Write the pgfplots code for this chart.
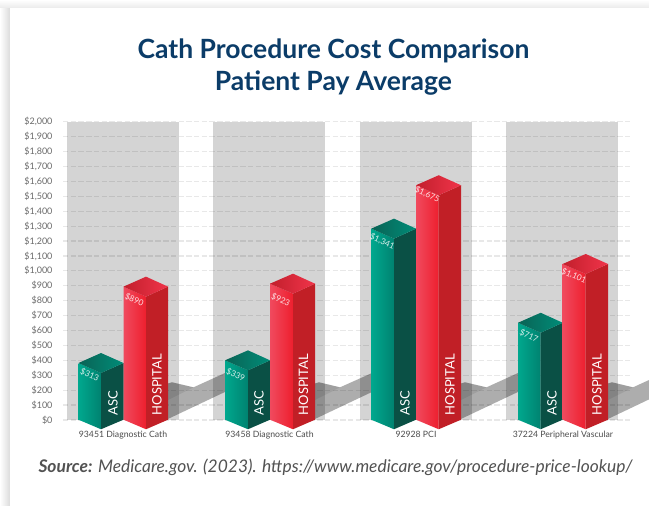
\documentclass[border=0pt]{standalone}
\usepackage{pgfplots}
\pgfplotsset{compat=1.18}
\usepackage{fontspec}
\setmainfont{Lato}
\definecolor{navy}{HTML}{0B3C68}
\definecolor{tickc}{HTML}{6A6A6A}
\definecolor{gL}{HTML}{00A88E}\definecolor{gM}{HTML}{008270}\definecolor{gS}{HTML}{0A5045}
\definecolor{gTL}{HTML}{0A6355}\definecolor{gTR}{HTML}{008C78}
\definecolor{rL}{HTML}{F04A5E}\definecolor{rM}{HTML}{EE1F2E}\definecolor{rS}{HTML}{C11F26}
\definecolor{rTL}{HTML}{C21F2C}\definecolor{rTR}{HTML}{F0344A}
% xL, mid, xR, front-corner height, left-corner height, back-corner height, colour prefix
\newcommand\threed[7]{%
  \addplot[draw=none,left color=#7L,right color=#7M] coordinates {(#1,2) (#2,-62) (#2,#4) (#1,#5)} -- cycle;
  \addplot[draw=none,fill=#7S] coordinates {(#2,-62) (#3,2) (#3,#5) (#2,#4)} -- cycle;
  \addplot[draw=none,left color=#7TL,right color=#7TR] coordinates {(#1,#5) (#2,#4) (#3,#5) (#2,#6)} -- cycle;
}
\newcommand\vlabel[3]{\node[text=white,opacity=.85,font=\fontsize{8.3}{9}\selectfont,rotate=-24,inner sep=0pt] at (axis cs:#1,#2) {#3};}
\newcommand\blabel[3]{\node[text=white,font=\fontsize{13}{14}\selectfont,rotate=90,anchor=west,inner sep=0pt] at (axis cs:#1,#2) {#3};}
\begin{document}
\begin{tikzpicture}[x=1pt,y=1pt]
\path[use as bounding box] (0,0) rectangle (649,506);
\fill[white] (0,0) rectangle (649,506);
\shade[left color=white,right color=black!14] (0,0) rectangle (10,506);
\shade[top color=white,bottom color=black!8] (0,498) rectangle (649,506);
\fill[white] (10,0) rectangle (649,498);
\begin{axis}[at={(63pt,86pt)},anchor=south west,scale only axis,width=567pt,height=298.3pt,
  xmin=63,xmax=630,ymin=0,ymax=2000,axis line style={draw=none},ticks=none,clip=false]
\addplot[draw=none,fill=black!17] coordinates {(67,0) (179,0) (179,2000) (67,2000)} -- cycle;
\addplot[draw=none,fill=black!17] coordinates {(213,0) (325,0) (325,2000) (213,2000)} -- cycle;
\addplot[draw=none,fill=black!17] coordinates {(360,0) (472,0) (472,2000) (360,2000)} -- cycle;
\addplot[draw=none,fill=black!17] coordinates {(506,0) (618,0) (618,2000) (506,2000)} -- cycle;
\end{axis}
\begin{axis}[at={(63pt,86pt)},anchor=south west,scale only axis,width=567pt,height=298.3pt,
  xmin=63,xmax=630,ymin=0,ymax=2000,clip=false,
  axis line style={draw=none},major tick length=0pt,
  ytick={0,100,...,2000},
  yticklabel={\$\pgfmathprintnumber{\tick}},
  /pgf/number format/.cd,1000 sep={,},assume math mode=true,/pgfplots/.cd,
  yticklabel style={font=\fontsize{9}{10}\selectfont,text=tickc,xshift=-7pt},
  xtick={123,269.5,416,563},
  xticklabels={93451 Diagnostic Cath,93458 Diagnostic Cath,92928 PCI,37224 Peripheral Vascular},
  xticklabel style={font=\fontsize{8.7}{10}\selectfont,text=black!70,yshift=-8pt},
  ymajorgrids,
  grid style={black,opacity=.09,line width=1.2pt,dash pattern=on 5.5pt off 2.2pt}]
% shadows
\addplot[draw=none,fill=black,fill opacity=.32] coordinates {(168,7) (225,188) (225,315) (193.5,219) (172,253) (168,245)} -- cycle;
\addplot[draw=none,fill=black,fill opacity=.32] coordinates {(315,7) (372,188) (372,315) (340,219) (319,253) (315,245)} -- cycle;
\addplot[draw=none,fill=black,fill opacity=.32] coordinates {(461,7) (518,188) (518,315) (486.5,219) (465,253) (461,245)} -- cycle;
\addplot[draw=none,fill=black,fill opacity=.32] coordinates {(608,7) (649,138) (649,268) (633,219) (612,253) (608,245)} -- cycle;
\addplot[draw=none,fill=black,fill opacity=.08] coordinates {(168,134) (193.5,219) (172,253) (168,245)} -- cycle;
\addplot[draw=none,fill=black,fill opacity=.08] coordinates {(315,134) (340,219) (319,253) (315,245)} -- cycle;
\addplot[draw=none,fill=black,fill opacity=.08] coordinates {(461,134) (486.5,219) (465,253) (461,245)} -- cycle;
\addplot[draw=none,fill=black,fill opacity=.08] coordinates {(608,134) (633,219) (612,253) (608,245)} -- cycle;
% bars
\threed{78.5}{101}{123.5}{315}{382}{449}{g}
\threed{123.5}{146}{168}{827}{894}{961}{r}
\threed{225}{248}{270}{333}{400}{467}{g}
\threed{270}{293}{315}{847}{914}{981}{r}
\threed{371.3}{394}{416}{1216}{1283}{1350}{g}
\threed{416}{438.7}{461}{1507}{1574}{1641}{r}
\threed{518}{540.7}{562.7}{585}{652}{719}{g}
\threed{562.7}{585.7}{608}{979}{1046}{1113}{r}
% labels
\vlabel{89.7}{300}{\$313}
\vlabel{134.3}{805}{\$890}
\vlabel{235.7}{300}{\$339}
\vlabel{280.7}{805}{\$923}
\vlabel{382.3}{1198}{\$1,341}
\vlabel{427.3}{1513}{\$1,675}
\vlabel{529}{563}{\$717}
\vlabel{574}{967}{\$1,101}
\blabel{113}{30}{ASC}
\blabel{157}{30}{HOSPITAL}
\blabel{259}{30}{ASC}
\blabel{303.5}{30}{HOSPITAL}
\blabel{405}{30}{ASC}
\blabel{450}{30}{HOSPITAL}
\blabel{552}{30}{ASC}
\blabel{597}{30}{HOSPITAL}
\end{axis}
\node[text=navy,font=\fontsize{26.5}{32}\selectfont\bfseries,align=center,inner sep=0pt] at (333.5,438.5) {Cath Procedure Cost Comparison\\Patient Pay Average};
\node[text=black!68,font=\fontsize{17.4}{20}\selectfont\itshape,inner sep=0pt] at (335.5,39) {\textbf{Source:} Medicare.gov. (2023). https://www.medicare.gov/procedure-price-lookup/};
\end{tikzpicture}
\end{document}
